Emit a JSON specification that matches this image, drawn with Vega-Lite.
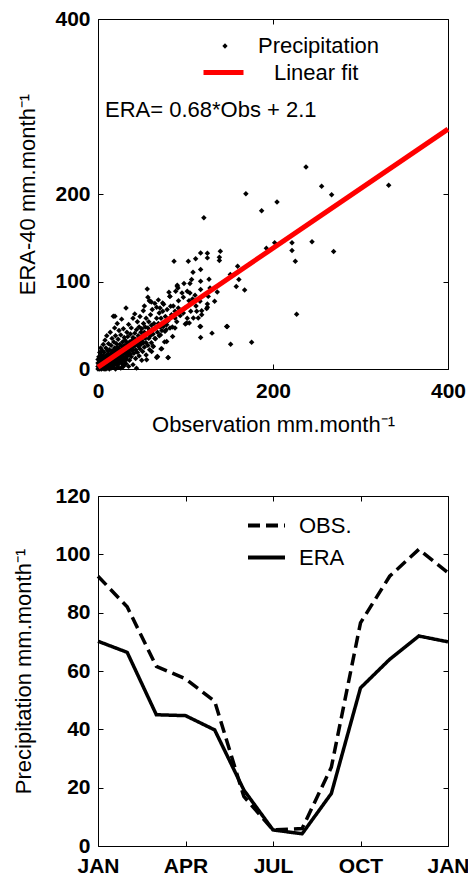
{
  "$schema": "https://vega.github.io/schema/vega-lite/v6.json",
  "padding": {"left": 12, "top": 7, "right": 0, "bottom": 0},
  "background": "white",
  "spacing": 48,
  "resolve": {
    "scale": {"shape": "independent", "color": "independent", "strokeDash": "independent"},
    "legend": {"shape": "independent", "color": "independent", "strokeDash": "independent"}
  },
  "config": {
    "font": "Liberation Sans",
    "view": {"stroke": "black", "strokeWidth": 1},
    "axis": {"grid": false, "domain": false, "labelFlush": false, "tickColor": "black", "tickSize": -5, "labelColor": "black", "titleColor": "black", "labelFontSize": 21, "labelFontWeight": "bold", "titleFontSize": 22, "titleFontWeight": "normal", "labelFont": "Liberation Sans", "titleFont": "Liberation Sans"},
    "legend": {"padding": 0, "labelFontSize": 22, "labelFont": "Liberation Sans", "labelColor": "black", "labelFontWeight": "normal"}
  },
  "datasets": {
    "pts": [
      {"o":237.7,"e":230.8},{"o":255.6,"e":208.8},{"o":267,"e":199.2},{"o":169,"e":200.3},{"o":204.6,"e":190.8},{"o":187,"e":180.9},{"o":121,"e":172.8},{"o":244.6,"e":145.3},{"o":269.3,"e":134.3},{"o":221.7,"e":144.2},{"o":221.7,"e":135.4},{"o":225.5,"e":123.2},{"o":201.9,"e":144.2},{"o":192.4,"e":138.1},{"o":227,"e":62.5},{"o":159.6,"e":117.5},{"o":161,"e":102.2},{"o":158,"e":94.2},{"o":167.6,"e":90.3},{"o":151.2,"e":108},{"o":139.8,"e":134.7},{"o":138.7,"e":127.8},{"o":138.7,"e":124},{"o":125,"e":132.4},{"o":125,"e":127},{"o":117.3,"e":132.7},{"o":117.3,"e":113.7},{"o":126.9,"e":102.6},{"o":117.3,"e":100.3},{"o":117.3,"e":90.8},{"o":136.3,"e":88},{"o":128,"e":92.6},{"o":133.3,"e":77.4},{"o":125,"e":74.3},{"o":124.2,"e":69},{"o":118.5,"e":66.7},{"o":332.2,"e":210},
      {"o":86.9,"e":123.2},{"o":103.2,"e":123.2},{"o":111.6,"e":125.9},{"o":108.6,"e":110.6},{"o":105.1,"e":97.6},{"o":98.3,"e":97.6},{"o":90.6,"e":95.7},{"o":91.4,"e":92.6},{"o":88.8,"e":88.8},{"o":81.1,"e":87.7},{"o":56.3,"e":91.5},{"o":105.1,"e":86.9},{"o":110.9,"e":84.2},{"o":97.5,"e":81.9},{"o":58.7,"e":78.1},{"o":126,"e":83},
      {"o":102,"e":88.8},{"o":116.6,"e":77.4},{"o":82.3,"e":83},{"o":73.9,"e":75.4},{"o":67,"e":70.5},{"o":61,"e":76.5},{"o":91.8,"e":69.7},{"o":83,"e":71.6},{"o":97.5,"e":64},{"o":109,"e":58.2},{"o":104.3,"e":52.5},{"o":99.8,"e":51.3},{"o":112.8,"e":65.9},{"o":118.5,"e":62.1},{"o":117.3,"e":48.7},{"o":130.3,"e":41},{"o":147.8,"e":48.7},{"o":117.3,"e":36.1},{"o":151.6,"e":28.4},{"o":88,"e":58.2},{"o":82.3,"e":46.8},{"o":74.7,"e":48.7},{"o":76.6,"e":43},{"o":85.3,"e":37.2},{"o":71.4,"e":39},{"o":78.5,"e":31.5},{"o":65.7,"e":34.7},{"o":63.2,"e":25.8},{"o":72.8,"e":23.2},{"o":67.8,"e":14.3},{"o":80.3,"e":13.2},{"o":61.3,"e":20},
      {"o":17.5,"e":60.2},{"o":32,"e":69.7},{"o":175.6,"e":30.7},{"o":19.4,"e":60.2},{"o":59.4,"e":77.4},{"o":51.8,"e":66.7},{"o":70.9,"e":69.7},{"o":90.6,"e":94.6},{"o":107,"e":102.2},{"o":78.5,"e":50.7},{"o":88,"e":46.8},{"o":101.4,"e":52.5},{"o":114.6,"e":58.2},{"o":125,"e":70.5},{"o":116.6,"e":48.7},{"o":147,"e":48.7},{"o":55.6,"e":10.5},{"o":38.5,"e":22},{"o":67,"e":13.2},{"o":44,"e":1},{"o":29,"e":2.9},{"o":6,"e":1},
      {"o":0,"e":0},{"o":0,"e":3},{"o":0,"e":7},{"o":0,"e":11},{"o":1,"e":1},{"o":1,"e":5},{"o":1,"e":14},{"o":2,"e":0},{"o":2,"e":3},{"o":2,"e":9},{"o":2,"e":19},{"o":3,"e":2},{"o":3,"e":6},{"o":3,"e":12},{"o":3,"e":24},{"o":4,"e":0},{"o":4,"e":4},{"o":4,"e":9},{"o":4,"e":16},{"o":5,"e":1},{"o":5,"e":7},{"o":5,"e":12},{"o":5,"e":21},{"o":6,"e":3},{"o":6,"e":9},{"o":6,"e":15},{"o":6,"e":28},{"o":7,"e":0},{"o":7,"e":5},{"o":7,"e":11},{"o":7,"e":19},{"o":8,"e":2},{"o":8,"e":8},{"o":8,"e":14},{"o":8,"e":33},{"o":9,"e":0},{"o":9,"e":6},{"o":9,"e":11},{"o":9,"e":24},{"o":10,"e":3},{"o":10,"e":9},{"o":10,"e":16},{"o":10,"e":38},
      {"o":11,"e":1},{"o":11,"e":7},{"o":11,"e":13},{"o":11,"e":21},{"o":12,"e":4},{"o":12,"e":10},{"o":12,"e":17},{"o":12,"e":29},{"o":13,"e":0},{"o":13,"e":6},{"o":13,"e":12},{"o":13,"e":22},{"o":14,"e":3},{"o":14,"e":9},{"o":14,"e":15},{"o":14,"e":42},{"o":15,"e":1},{"o":15,"e":8},{"o":15,"e":18},{"o":15,"e":27},{"o":16,"e":5},{"o":16,"e":11},{"o":16,"e":21},{"o":16,"e":35},{"o":17,"e":2},{"o":17,"e":9},{"o":17,"e":14},{"o":18,"e":4},{"o":18,"e":12},{"o":18,"e":19},{"o":18,"e":31},{"o":19,"e":7},{"o":19,"e":16},{"o":19,"e":24},{"o":19,"e":47},{"o":20,"e":0},{"o":20,"e":10},{"o":20,"e":15},{"o":20,"e":22},{"o":20,"e":38},
      {"o":21,"e":5},{"o":21,"e":13},{"o":21,"e":19},{"o":21,"e":29},{"o":22,"e":8},{"o":22,"e":17},{"o":22,"e":25},{"o":22,"e":52},{"o":23,"e":2},{"o":23,"e":11},{"o":23,"e":20},{"o":23,"e":34},{"o":24,"e":6},{"o":24,"e":15},{"o":24,"e":23},{"o":24,"e":44},{"o":25,"e":9},{"o":25,"e":18},{"o":25,"e":28},{"o":26,"e":1},{"o":26,"e":13},{"o":26,"e":21},{"o":26,"e":39},{"o":27,"e":7},{"o":27,"e":16},{"o":27,"e":26},{"o":27,"e":57},{"o":28,"e":11},{"o":28,"e":19},{"o":28,"e":31},{"o":29,"e":4},{"o":29,"e":14},{"o":29,"e":24},{"o":29,"e":46},{"o":30,"e":9},{"o":30,"e":18},{"o":30,"e":27},{"o":30,"e":36},{"o":31,"e":13},{"o":31,"e":22},{"o":31,"e":33},{"o":32,"e":6},{"o":32,"e":17},{"o":32,"e":26},{"o":33,"e":11},{"o":33,"e":20},{"o":33,"e":30},{"o":33,"e":42},{"o":34,"e":15},{"o":34,"e":24},{"o":34,"e":37},{"o":35,"e":3},{"o":35,"e":19},{"o":35,"e":28},{"o":35,"e":51},
      {"o":36,"e":10},{"o":36,"e":22},{"o":36,"e":31},{"o":37,"e":17},{"o":37,"e":26},{"o":37,"e":40},{"o":38,"e":14},{"o":38,"e":29},{"o":38,"e":47},{"o":39,"e":21},{"o":39,"e":33},{"o":40,"e":5},{"o":40,"e":25},{"o":40,"e":36},{"o":40,"e":58},{"o":41,"e":18},{"o":41,"e":30},{"o":42,"e":27},{"o":42,"e":41},{"o":42,"e":63},{"o":43,"e":12},{"o":43,"e":22},{"o":43,"e":34},{"o":44,"e":29},{"o":44,"e":45},{"o":45,"e":19},{"o":45,"e":33},{"o":45,"e":54},{"o":46,"e":26},{"o":46,"e":38},{"o":47,"e":15},{"o":47,"e":31},{"o":47,"e":48},{"o":48,"e":23},{"o":48,"e":36},{"o":48,"e":60},{"o":49,"e":28},{"o":49,"e":42},{"o":50,"e":10},{"o":50,"e":33},{"o":50,"e":46},{"o":51,"e":20},{"o":51,"e":38},{"o":52,"e":30},{"o":52,"e":52},{"o":53,"e":25},{"o":53,"e":42},{"o":53,"e":72},{"o":54,"e":35},{"o":54,"e":48},{"o":55,"e":16},{"o":55,"e":30},{"o":55,"e":58},
      {"o":56,"e":40},{"o":57,"e":27},{"o":57,"e":47},{"o":57,"e":82},{"o":58,"e":35},{"o":58,"e":54},{"o":59,"e":22},{"o":59,"e":44},{"o":60,"e":38},{"o":60,"e":62},{"o":61,"e":30},{"o":61,"e":50},{"o":62,"e":45},{"o":62,"e":68},{"o":63,"e":26},{"o":63,"e":40},{"o":64,"e":52},{"o":65,"e":35},{"o":65,"e":75},{"o":66,"e":47},{"o":67,"e":58},{"o":68,"e":14},{"o":68,"e":42},{"o":69,"e":52},{"o":69,"e":79},{"o":70,"e":38},{"o":70,"e":64},{"o":71,"e":48},{"o":72,"e":23},{"o":72,"e":58},{"o":73,"e":44},{"o":74,"e":66},{"o":75,"e":52},{"o":75,"e":74},{"o":76,"e":31},{"o":77,"e":60},{"o":78,"e":45},{"o":79,"e":68},{"o":80,"e":13},{"o":80,"e":55},{"o":82,"e":83},{"o":84,"e":62},{"o":85,"e":48},{"o":86,"e":72},{"o":88,"e":66},{"o":90,"e":54},{"o":92,"e":78},{"o":94,"e":61},{"o":96,"e":87},{"o":100,"e":70},{"o":102,"e":58},{"o":104,"e":78},{"o":106,"e":66},{"o":108,"e":80},{"o":112,"e":72}
    ],
    "fit": [{"o":0,"e":2.1},{"o":400,"e":274.1}],
    "note": [{"o":8,"e":296,"t":"ERA= 0.68*Obs + 2.1"}],
    "monthly": [
      {"m":0,"v":92.5,"s":"OBS."},{"m":1,"v":82,"s":"OBS."},{"m":2,"v":61.6,"s":"OBS."},{"m":3,"v":57.3,"s":"OBS."},{"m":4,"v":49.6,"s":"OBS."},{"m":5,"v":17,"s":"OBS."},{"m":6,"v":5.5,"s":"OBS."},{"m":7,"v":6,"s":"OBS."},{"m":8,"v":27,"s":"OBS."},{"m":9,"v":76.5,"s":"OBS."},{"m":10,"v":92.5,"s":"OBS."},{"m":11,"v":101.7,"s":"OBS."},{"m":12,"v":93.7,"s":"OBS."},
      {"m":0,"v":70.2,"s":"ERA"},{"m":1,"v":66.4,"s":"ERA"},{"m":2,"v":45,"s":"ERA"},{"m":3,"v":44.7,"s":"ERA"},{"m":4,"v":39.8,"s":"ERA"},{"m":5,"v":19.2,"s":"ERA"},{"m":6,"v":5.5,"s":"ERA"},{"m":7,"v":4.2,"s":"ERA"},{"m":8,"v":18,"s":"ERA"},{"m":9,"v":54.2,"s":"ERA"},{"m":10,"v":64,"s":"ERA"},{"m":11,"v":72,"s":"ERA"},{"m":12,"v":70,"s":"ERA"}
    ]
  },
  "vconcat": [
    {
      "width": 350,
      "height": 350,
      "resolve": {"axis": {"x": "independent", "y": "independent"}},
      "layer": [
        {
          "data": {"name": "pts"},
          "mark": {"type": "point", "filled": true, "color": "black", "size": 30, "opacity": 1},
          "encoding": {
            "x": {"field": "o", "type": "quantitative", "scale": {"domain": [0, 400], "nice": false}, "axis": {"values": [0, 200, 400], "title": "Observation mm.month⁻¹", "labelPadding": 16, "titlePadding": 13}},
            "y": {"field": "e", "type": "quantitative", "scale": {"domain": [0, 400], "nice": false}, "axis": {"values": [0, 100, 200, 400], "title": "ERA-40 mm.month⁻¹", "labelPadding": 13, "titlePadding": 15}},
            "shape": {"datum": "Precipitation", "type": "nominal", "scale": {"domain": ["Precipitation"], "range": ["diamond"]}, "legend": {"orient": "none", "legendX": 116, "legendY": 16, "title": null, "symbolFillColor": "black", "symbolStrokeColor": "black", "symbolSize": 28, "labelOffset": 22}}
          }
        },
        {
          "data": {"name": "fit"},
          "mark": {"type": "line", "color": "red", "strokeWidth": 5},
          "encoding": {
            "x": {"field": "o", "type": "quantitative", "axis": null},
            "y": {"field": "e", "type": "quantitative", "axis": null},
            "color": {"datum": "Linear fit", "type": "nominal", "scale": {"domain": ["Linear fit"], "range": ["red"]}, "legend": {"orient": "none", "legendX": 103, "legendY": 31, "title": null, "symbolType": "stroke", "symbolSize": 1600, "symbolStrokeWidth": 5, "labelOffset": 28}}
          }
        },
        {
          "data": {"name": "note"},
          "mark": {"type": "text", "align": "left", "baseline": "middle", "fontSize": 22, "font": "Liberation Sans", "color": "black"},
          "encoding": {
            "x": {"field": "o", "type": "quantitative", "axis": null},
            "y": {"field": "e", "type": "quantitative", "axis": null},
            "text": {"field": "t"}
          }
        },
        {
          "data": {"name": "fit"},
          "mark": {"type": "line", "opacity": 0},
          "encoding": {
            "x": {"field": "o", "type": "quantitative", "axis": {"orient": "top", "labels": false, "title": null, "values": [0, 200, 400]}},
            "y": {"field": "e", "type": "quantitative", "axis": {"orient": "right", "labels": false, "title": null, "values": [0, 100, 200, 400]}}
          }
        }
      ]
    },
    {
      "width": 350,
      "height": 350,
      "resolve": {"axis": {"x": "independent", "y": "independent"}},
      "layer": [
        {
          "data": {"name": "monthly"},
          "mark": {"type": "line", "color": "black", "strokeWidth": 3.5},
          "encoding": {
            "x": {"field": "m", "type": "quantitative", "scale": {"domain": [0, 12], "nice": false}, "axis": {"values": [0, 3, 6, 9, 12], "labelExpr": "['JAN','APR','JUL','OCT','JAN'][round(datum.value/3)]", "title": null, "labelPadding": 14}},
            "y": {"field": "v", "type": "quantitative", "scale": {"domain": [0, 120], "nice": false}, "axis": {"values": [0, 20, 40, 60, 80, 100, 120], "title": "Precipitation mm.month⁻¹", "labelPadding": 13, "titlePadding": 19}},
            "strokeDash": {"field": "s", "type": "nominal", "scale": {"domain": ["OBS.", "ERA"], "range": [[12, 6], [1, 0]]}, "legend": {"orient": "none", "legendX": 148, "legendY": 9, "title": null, "symbolType": "stroke", "symbolSize": 1369, "symbolStrokeWidth": 4, "symbolStrokeColor": "black", "labelOffset": 12, "rowPadding": 0}}
          }
        },
        {
          "data": {"name": "monthly"},
          "mark": {"type": "line", "opacity": 0},
          "encoding": {
            "x": {"field": "m", "type": "quantitative", "axis": {"orient": "top", "labels": false, "title": null, "values": [0, 3, 6, 9, 12]}},
            "y": {"field": "v", "type": "quantitative", "axis": {"orient": "right", "labels": false, "title": null, "values": [0, 20, 40, 60, 80, 100, 120]}},
            "detail": {"field": "s", "type": "nominal"}
          }
        }
      ]
    }
  ]
}
